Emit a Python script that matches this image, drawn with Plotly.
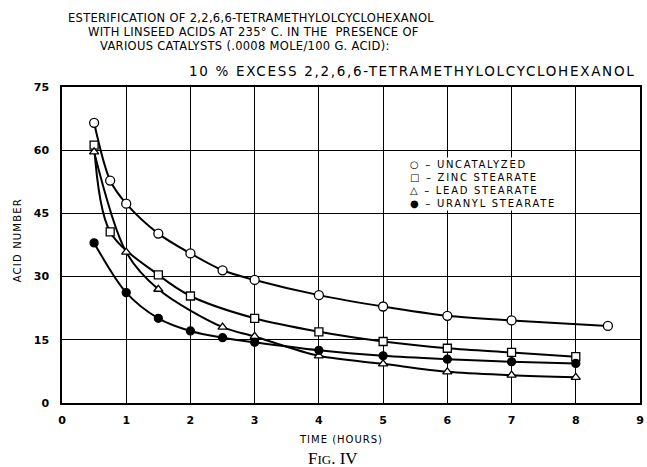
import plotly.graph_objects as go

# Data
unc_x = [0.5, 0.75, 1, 1.5, 2, 2.5, 3, 4, 5, 6, 7, 8.5]
unc_y = [66.5, 52.8, 47.3, 40.2, 35.5, 31.5, 29.2, 25.6, 22.9, 20.7, 19.6, 18.3]

zinc_x = [0.5, 0.75, 1.5, 2, 3, 4, 5, 6, 7, 8]
zinc_y = [61.2, 40.6, 30.4, 25.4, 20.1, 16.9, 14.6, 13.0, 12.0, 11.0]

lead_x = [0.5, 1, 1.5, 2.5, 3, 4, 5, 6, 7, 8]
lead_y = [59.6, 35.8, 27.0, 18.0, 15.8, 11.2, 9.3, 7.4, 6.6, 6.1]

uran_x = [0.5, 1, 1.5, 2, 2.5, 3, 4, 5, 6, 7, 8]
uran_y = [38.0, 26.2, 20.1, 17.1, 15.5, 14.4, 12.5, 11.2, 10.4, 9.8, 9.4]

x_ticks = [0, 1, 2, 3, 4, 5, 6, 7, 8, 9]
y_ticks = [0, 15, 30, 45, 60, 75]

legend_lines = ["○ – UNCATALYZED", "□ – ZINC STEARATE", "△ – LEAD STEARATE", "● – URANYL STEARATE"]

title_lines = [
    "ESTERIFICATION OF 2,2,6,6-TETRAMETHYLOLCYCLOHEXANOL",
    "WITH LINSEED ACIDS AT 235° C. IN THE  PRESENCE OF",
    "VARIOUS CATALYSTS (.0008 MOLE/100 G. ACID):",
]
subtitle = "10 % EXCESS 2,2,6,6-TETRAMETHYLOLCYCLOHEXANOL"

FONT = "DejaVu Sans"
L, R, T, B = 62, 644, 87, 403
W, H = R - L, B - T

def px(x):
    return (x - L) / W

def py(y):
    return (B - y) / H

fig = go.Figure()

def add(xs, ys, symbol, fill, size):
    fig.add_trace(go.Scatter(
        x=xs, y=ys, mode="lines+markers",
        line=dict(color="black", width=2, shape="spline", smoothing=0.9),
        marker=dict(symbol=symbol, size=size, color=fill,
                    line=dict(color="black", width=1.3)),
        showlegend=False, cliponaxis=False))

add(unc_x, unc_y, "circle", "white", 9)
add(zinc_x, zinc_y, "square", "white", 8)
add(lead_x, lead_y, "triangle-up", "white", 8)
add(uran_x, uran_y, "circle", "black", 8)

axis_common = dict(showline=True, linecolor="black", linewidth=1.5, mirror=True,
                   showgrid=True, gridcolor="black", gridwidth=1, zeroline=False,
                   ticks="", tickfont=dict(family=FONT, size=11, color="black", weight="bold"))

fig.update_xaxes(range=[0, 9], tickvals=x_ticks, ticktext=[str(t) for t in x_ticks],
                 ticklabelstandoff=6, **axis_common)
fig.update_yaxes(range=[0, 75], tickvals=y_ticks, ticktext=[str(t) for t in y_ticks],
                 ticklabelstandoff=9, **axis_common)

annotations = []
title_cx = [252, 255, 246]
title_cy = [18, 32, 46]
for t, cx, cy in zip(title_lines, title_cx, title_cy):
    annotations.append(dict(text="<span style='letter-spacing:0.3px'>" + t + "</span>",
                            xref="paper", yref="paper", x=px(cx), y=py(cy),
                            xanchor="center", yanchor="middle", showarrow=False,
                            font=dict(family=FONT, size=11.5, color="black")))
annotations.append(dict(text="<span style='letter-spacing:1.7px'>" + subtitle + "</span>",
                        xref="paper", yref="paper", x=px(641), y=py(71),
                        xanchor="right", yanchor="middle", showarrow=False,
                        font=dict(family=FONT, size=13.5, color="black")))
annotations.append(dict(text="<span style='letter-spacing:1.7px'>" + "<br>".join(legend_lines) + "</span>",
                        xref="paper", yref="paper",
                        x=px(410), y=py(157), xanchor="left", yanchor="top",
                        align="left", showarrow=False, bgcolor="white",
                        font=dict(family=FONT, size=10, color="black")))
annotations.append(dict(text="<span style='letter-spacing:1px'>TIME (HOURS)</span>",
                        xref="paper", yref="paper", x=px(343), y=py(439),
                        xanchor="center", yanchor="middle", showarrow=False,
                        font=dict(family=FONT, size=10, color="black")))
annotations.append(dict(text="<span style='letter-spacing:1.2px'>ACID NUMBER</span>",
                        xref="paper", yref="paper", x=px(17), y=py(240), textangle=-90,
                        xanchor="center", yanchor="middle", showarrow=False,
                        font=dict(family=FONT, size=10, color="black")))
annotations.append(dict(text="F<span style='font-size:13px'>IG</span>. IV", xref="paper", yref="paper",
                        x=px(335), y=py(458), xanchor="center", yanchor="middle",
                        showarrow=False, font=dict(family="Liberation Serif", size=17, color="black")))

fig.update_layout(width=647, height=467, margin=dict(l=L, r=647 - R, t=T, b=467 - B),
                  paper_bgcolor="white", plot_bgcolor="white", annotations=annotations)

fig.write_html("out.html")
